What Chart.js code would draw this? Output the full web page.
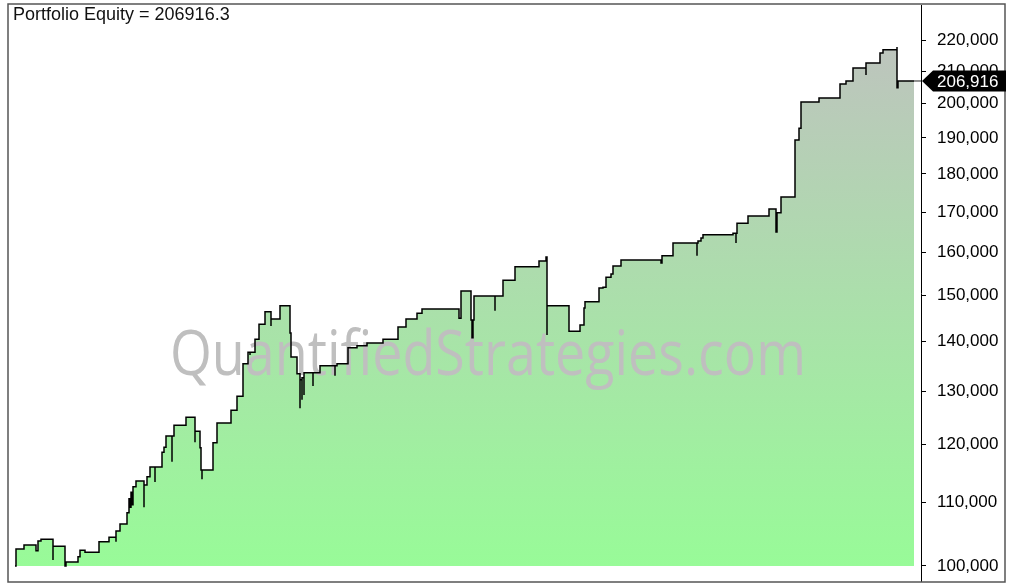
<!DOCTYPE html>
<html>
<head>
<meta charset="utf-8">
<script src="https://cdn.jsdelivr.net/npm/chart.js@4.4.1/dist/chart.umd.min.js"></script>
<style>
body { margin: 0; background: #fff; }
</style>
</head>
<body>
<canvas id="equity-canvas" width="1011" height="583"></canvas>
<script>
// bar index where the equity level changes (stepped), and the new level
let bars = [
	0, 1, 9, 21, 23, 26, 38, 38, 50, 51, 63, 65, 70, 84, 94, 101, 101, 105, 112, 114,
	115, 116, 117, 118, 121, 129, 129, 132, 135, 140, 140, 147, 149, 151, 157, 157, 159, 171, 180, 180,
	185, 186, 187, 187, 198, 202, 216, 222, 228, 233, 235, 235, 240, 244, 250, 256, 256, 265, 275, 276,
	282, 285, 285, 287, 287, 289, 289, 298, 298, 305, 320, 320, 322, 333, 342, 352, 368, 383, 391, 402,
	407, 444, 446, 456, 457, 458, 459, 480, 480, 488, 500, 524, 531, 532, 532, 554, 565, 569, 570, 584,
	588, 591, 596, 598, 606, 646, 647, 658, 682, 682, 683, 686, 688, 718, 721, 721, 722, 733, 754, 761,
	762, 766, 780, 784, 786, 804, 825, 831, 838, 851, 851, 865, 868, 882, 882, 883, 899
];
let equity = [
	100000, 102600, 103200, 102300, 103800, 104100, 100900, 103000, 100000, 100600, 101400, 102400, 102100, 103700, 104400, 103700, 105400, 106500, 108300, 110600,
	109200, 111700, 109600, 112600, 113600, 109200, 112900, 114300, 116000, 113400, 116000, 118600, 119500, 121500, 116900, 121500, 123500, 125000, 120400, 122400,
	119400, 115500, 113900, 115500, 120300, 123900, 126300, 129000, 135400, 137800, 137200, 137800, 140500, 143700, 146400, 143300, 144800, 147700, 141800, 136800,
	133400, 126700, 132200, 128300, 132600, 129200, 133600, 131000, 133600, 135000, 133000, 135000, 135400, 138700, 139100, 139700, 140500, 143100, 144800, 146100,
	147000, 145000, 151000, 144600, 140800, 144600, 149900, 146600, 149900, 153500, 156600, 158000, 158900, 141400, 147700, 142200, 143500, 147200, 148600, 151700,
	151900, 154200, 154900, 156800, 158200, 157500, 159200, 162300, 159200, 162300, 162800, 163500, 164300, 164700, 162300, 164700, 167200, 169000, 170800, 165000,
	169800, 173900, 189400, 192800, 200500, 201700, 206000, 206900, 211000, 208800, 212600, 215800, 216800, 217700, 204800, 206916.3, 206916.3
];
let tick_values = [100000, 110000, 120000, 130000, 140000, 150000, 160000, 170000, 180000, 190000, 200000, 210000, 220000];
let last_equity = 206916.3;
let title_text = 'Portfolio Equity = 206916.3';
let watermark_text = 'QuantifiedStrategies.com';

let equity_points = bars.map((b, i) => ({x: b, y: equity[i]}));
let tail_points = [{x: bars.at(-1), y: last_equity}, {x: 906, y: last_equity}];

//gradient fill, grey at the top to pale green at the base
let fillGradient = function(context) {
	let chart = context.chart;
	let area = chart.chartArea;
	if (!area) {
		return '#b0e0b0';
	}
	let base = chart.scales.y.getPixelForValue(100000);
	let grad = chart.ctx.createLinearGradient(0, area.top, 0, base);
	grad.addColorStop(0, '#c0c0c0');
	grad.addColorStop(1, '#98fb98');
	return grad;
};

let chart_decor = {
	id: 'chart_decor',
	beforeDatasetsDraw: function(chart) {
		let ctx = chart.ctx;
		ctx.save();
		ctx.font = '62px "Open Sans"';
		ctx.fillStyle = '#bfbfbf';
		let w = ctx.measureText(watermark_text).width;
		ctx.translate(170, 375);
		ctx.scale(636 / w, 1);
		ctx.fillText(watermark_text, 0, 0);
		ctx.restore();
	},
	afterDraw: function(chart) {
		let ctx = chart.ctx;
		ctx.save();
		// outer frame
		ctx.strokeStyle = '#555';
		ctx.lineWidth = 1.5;
		ctx.strokeRect(8, 4, 997, 578);

		// title
		ctx.font = '18px "Liberation Sans", Arial';
		ctx.fillStyle = '#111';
		ctx.textBaseline = 'alphabetic';
		ctx.fillText(title_text, 13, 20);

		// last value marker on the axis
		let y = chart.scales.y.getPixelForValue(last_equity);
		let x0 = chart.chartArea.right + 1;
		ctx.fillStyle = '#000';
		ctx.beginPath();
		ctx.moveTo(x0, y);
		ctx.lineTo(x0 + 11, y - 10.5);
		ctx.lineTo(1006, y - 10.5);
		ctx.lineTo(1006, y + 10.5);
		ctx.lineTo(x0 + 11, y + 10.5);
		ctx.closePath();
		ctx.fill();
		ctx.fillStyle = '#fff';
		ctx.font = '17px "Liberation Sans", Arial';
		ctx.textBaseline = 'middle';
		ctx.fillText(Math.round(last_equity).toLocaleString('en-US'), 937, y + 1);
		ctx.restore();
	}
};

let canvas = document.getElementById('equity-canvas');
let context = canvas.getContext('2d');

let equity_chart = new Chart(context, {
	type: 'line',
	data: {
		datasets: [
			{
				data: equity_points,
				stepped: true,
				borderColor: '#000',
				borderWidth: 1.5,
				pointRadius: 0,
				fill: {value: 100000},
				backgroundColor: fillGradient
			},
			{
				data: tail_points,
				borderColor: '#222',
				borderWidth: 1,
				pointRadius: 0,
				fill: false
			}
		]
	},
	options: {
		responsive: false,
		animation: false,
		layout: {
			padding: {left: 9, top: 5, right: 0, bottom: 2}
		},
		plugins: {
			legend: {display: false},
			tooltip: {enabled: false},
			filler: {drawTime: 'beforeDatasetsDraw'}
		},
		scales: {
			x: {
				type: 'linear',
				display: false,
				min: -6,
				max: 906
			},
			y: {
				type: 'logarithmic',
				position: 'right',
				min: 97776,
				max: 231887,
				afterFit: function(scale) {
					scale.width = 90;
					scale.paddingTop = 0;
					scale.paddingBottom = 0;
				},
				afterBuildTicks: function(scale) {
					scale.ticks = tick_values.map(v => ({value: v}));
				},
				grid: {
					drawOnChartArea: false,
					drawTicks: true,
					tickLength: 5,
					color: '#000'
				},
				border: {
					display: true,
					color: '#000'
				},
				ticks: {
					padding: 11,
					color: '#000',
					font: {family: '"Liberation Sans", Arial', size: 17},
					callback: function(val) {
						return Number(val).toLocaleString('en-US');
					}
				}
			}
		}
	},
	plugins: [chart_decor]
});
</script>
</body>
</html>
